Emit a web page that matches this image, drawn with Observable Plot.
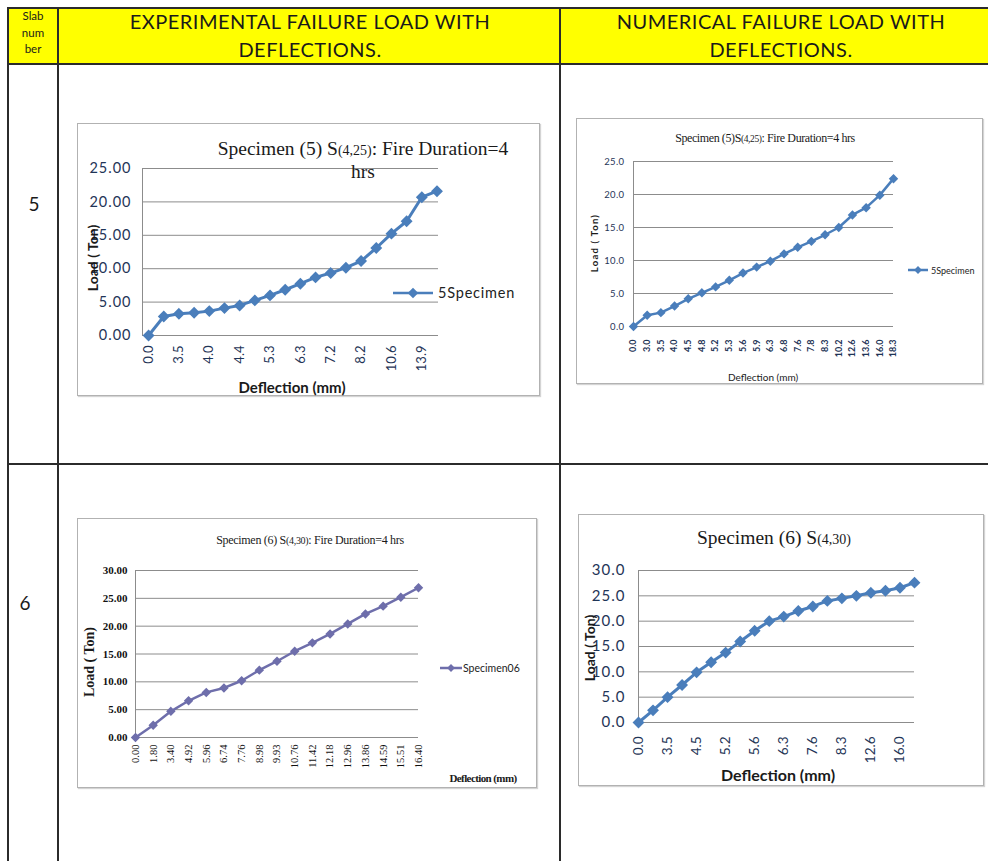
<!DOCTYPE html>
<html>
<head>
<meta charset="utf-8">
<script src="https://cdn.jsdelivr.net/npm/d3@7"></script>
<script src="https://cdn.jsdelivr.net/npm/@observablehq/plot@0.6"></script>
<style>
  body { margin: 0; background: #fff; }
  #page { position: relative; width: 988px; height: 861px; overflow: hidden; background: #fff; font-family: Lato, sans-serif; color: #1a1a1a; }
  .hline { position: absolute; height: 2px; background: #2b2b2b; }
  .vline { position: absolute; width: 2px; background: #2b2b2b; }
  .box { position: absolute; box-sizing: border-box; border: 1.5px solid #b2b2b2; box-shadow: 1px 1px 1px #d4d4d4; background: #fff; }
  .c { position: absolute; transform: translate(-50%, -50%); white-space: nowrap; line-height: 1; }
  .rot { position: absolute; transform: translate(-50%, -50%) rotate(-90deg); white-space: nowrap; line-height: 1; }
  .l { position: absolute; transform: translate(0, -50%); white-space: nowrap; line-height: 1; }
  .serif { font-family: "Liberation Serif", "Times New Roman", serif; }
  .head { font-size: 20px; letter-spacing: 0.5px; }
  svg.chart { position: absolute; }
</style>
</head>
<body>
<div id="page">
  <!-- table header -->
  <div style="position:absolute;left:8px;top:8px;width:1000px;height:56px;background:#ffff00;"></div>
  <div class="hline" style="left:8px;top:7px;width:1000px;"></div>
  <div class="hline" style="left:8px;top:63px;width:1000px;"></div>
  <div class="hline" style="left:8px;top:463px;width:1000px;"></div>
  <div class="vline" style="left:7px;top:7px;height:900px;"></div>
  <div class="vline" style="left:57px;top:7px;height:900px;"></div>
  <div class="vline" style="left:559px;top:7px;height:900px;"></div>

  <div class="c" style="left:33px;top:16px;font-size:11.5px;">Slab</div>
  <div class="c" style="left:33px;top:33px;font-size:11.5px;">num</div>
  <div class="c" style="left:33px;top:49px;font-size:11.5px;">ber</div>
  <div class="c head" style="left:310px;top:21px;">EXPERIMENTAL FAILURE LOAD WITH</div>
  <div class="c head" style="left:310px;top:49px;">DEFLECTIONS.</div>
  <div class="c head" style="left:781px;top:21px;">NUMERICAL FAILURE LOAD WITH</div>
  <div class="c head" style="left:781px;top:49px;">DEFLECTIONS.</div>

  <div class="c" style="left:34px;top:203px;font-size:19px;">5</div>
  <div class="c" style="left:25px;top:602px;font-size:19px;">6</div>

  <!-- chart frames -->
  <div class="box" style="left:77px;top:123px;width:463px;height:273px;"></div>
  <div class="box" style="left:576px;top:118px;width:407px;height:266px;"></div>
  <div class="box" style="left:77px;top:518px;width:460px;height:270px;"></div>
  <div class="box" style="left:578px;top:514px;width:406px;height:272px;"></div>
</div>

<script>
// Slab 5, experimental: deflection tick labels (every other point) and load in tons
const exp5Ticks = ["0.0", "3.5", "4.0", "4.4", "5.3", "6.3", "7.2", "8.2", "10.6", "13.9"];
const exp5Load = [0, 2.85, 3.25, 3.4, 3.65, 4.1, 4.5, 5.25, 6.0, 6.85, 7.75, 8.7, 9.35, 10.15, 11.15, 13.1, 15.25, 17.1, 20.7, 21.6];

// Slab 5, numerical
const num5Ticks = ["0.0", "3.0", "3.5", "4.0", "4.5", "4.8", "5.2", "5.3", "5.6", "5.9", "6.3", "6.8", "7.6", "7.8", "8.3", "10.2", "12.6", "13.6", "16.0", "18.3"];
const num5Load = [0, 1.7, 2.1, 3.1, 4.2, 5.1, 6.0, 7.0, 8.1, 9.0, 9.9, 11.0, 12.0, 12.9, 13.9, 15.0, 16.9, 18.0, 19.9, 22.4];

// Slab 6, experimental
const exp6Ticks = ["0.00", "1.80", "3.40", "4.92", "5.96", "6.74", "7.76", "8.98", "9.93", "10.76", "11.42", "12.18", "12.96", "13.86", "14.59", "15.51", "16.40"];
const exp6Load = [0, 2.2, 4.7, 6.6, 8.1, 8.9, 10.2, 12.1, 13.7, 15.5, 17.0, 18.6, 20.4, 22.2, 23.6, 25.2, 26.9];

// Slab 6, numerical (tick labels every other point)
const num6Ticks = ["0.0", "3.5", "4.5", "5.2", "5.6", "6.3", "7.6", "8.3", "12.6", "16.0"];
const num6Load = [0, 2.4, 5.0, 7.4, 9.9, 11.9, 13.8, 16.0, 18.1, 20.0, 20.9, 22.0, 22.9, 24.0, 24.5, 25.0, 25.6, 26.0, 26.6, 27.6];

const page = document.getElementById("page");

function drawChart(cfg) {
  const data = cfg.load.map((v, i) => ({i, v}));
  const tickIdx = d3.range(0, cfg.load.length, cfg.every);
  const yTicks = d3.range(0, cfg.yMax + 0.001, cfg.yStep);
  const svg = Plot.plot({
    width: cfg.W, height: cfg.H,
    marginTop: cfg.mt, marginRight: cfg.mr, marginBottom: cfg.mb, marginLeft: cfg.ml,
    x: {domain: cfg.xDomain, label: null},
    y: {domain: [0, cfg.yMax], label: null},
    style: {fontFamily: cfg.font, color: cfg.textColor, background: "transparent", overflow: "visible"},
    marks: [
      Plot.gridY(yTicks, {stroke: "#8c8c8c", strokeOpacity: 1, strokeWidth: 1}),
      Plot.ruleX([cfg.xDomain[0]], {stroke: "#8c8c8c", strokeWidth: 1}),
      Plot.axisY(yTicks, {tickSize: 0, tickPadding: cfg.padY, tickFormat: d => d.toFixed(cfg.digits), fontSize: cfg.yFont, fontWeight: cfg.yWeight || "normal", label: null}),
      Plot.axisX(tickIdx, {tickSize: 0, tickPadding: cfg.padX, tickRotate: -90, tickFormat: i => cfg.ticks[i / cfg.every], fontSize: cfg.xFont, fontWeight: cfg.xWeight || "normal", label: null}),
      Plot.line(data, {x: "i", y: "v", stroke: cfg.color, strokeWidth: cfg.sw}),
      Plot.dot(data, {x: "i", y: "v", symbol: "diamond2", r: cfg.r, fill: cfg.color, stroke: cfg.color})
    ]
  });
  // widen the tick lettering a little
  if (cfg.yLetter) d3.select(svg).selectAll('g[aria-label="y-axis tick label"] text').style("letter-spacing", cfg.yLetter + "px");
  if (cfg.xLetter) d3.select(svg).selectAll('g[aria-label="x-axis tick label"] text').style("letter-spacing", cfg.xLetter + "px");
  svg.classList.add("chart");
  svg.style.left = cfg.L + "px";
  svg.style.top = cfg.T + "px";
  page.append(svg);
}

const blue = "#4a7ebb";
const slate = "#6e6eab";

drawChart({load: exp5Load, ticks: exp5Ticks, every: 2, L: 77, T: 123, W: 463, H: 273,
  mt: 45, mr: 102, mb: 61, ml: 65, xDomain: [-0.4, 19.1], yMax: 25, yStep: 5, digits: 2,
  font: "Lato, sans-serif", textColor: "#1f3557", yFont: 14.5, yLetter: 1, xFont: 13, padY: 11, padX: 10,
  color: blue, sw: 3, r: 4.4});

drawChart({load: num5Load, ticks: num5Ticks, every: 1, L: 576, T: 118, W: 407, H: 266,
  mt: 43, mr: 90, mb: 58, ml: 57, xDomain: [0, 19], yMax: 25, yStep: 5, digits: 1,
  font: "Lato, sans-serif", textColor: "#1f3557", yFont: 9.5, yLetter: 0.4, xFont: 9, xWeight: "bold", padY: 9, padX: 13,
  color: blue, sw: 2.5, r: 3.3});

drawChart({load: exp6Load, ticks: exp6Ticks, every: 1, L: 77, T: 518, W: 460, H: 270,
  mt: 52, mr: 119, mb: 51, ml: 58, xDomain: [0, 16], yMax: 30, yStep: 5, digits: 2,
  font: "'Liberation Serif', serif", textColor: "#111", yFont: 11, yWeight: "bold", xFont: 10.5, padY: 8, padX: 7,
  color: slate, sw: 2.5, r: 3.3});

drawChart({load: num6Load, ticks: num6Ticks, every: 2, L: 578, T: 514, W: 406, H: 272,
  mt: 56, mr: 70, mb: 64, ml: 60, xDomain: [0, 19], yMax: 30, yStep: 5, digits: 1,
  font: "Lato, sans-serif", textColor: "#1f3557", yFont: 15, yLetter: 1, xFont: 13.5, padY: 13, padX: 14,
  color: blue, sw: 3, r: 4.4});

// titles, axis titles and legends
function add(html) { page.insertAdjacentHTML("beforeend", html); }
function legendKey(x, y, w, color, s) {
  add(`<svg style="position:absolute;left:${x}px;top:${y - 8}px;overflow:visible" width="${w}" height="16">
    <line x1="0" y1="8" x2="${w}" y2="8" stroke="${color}" stroke-width="2.5"/>
    <rect x="${w / 2 - s / 2}" y="${8 - s / 2}" width="${s}" height="${s}" fill="${color}" transform="rotate(45 ${w / 2} 8)"/>
  </svg>`);
}

// Slab 5, experimental
add(`<div class="c serif" style="left:363px;top:149px;font-size:19.5px;">Specimen (5) S<span style="font-size:14px">(4,25)</span>: Fire Duration=4</div>`);
add(`<div class="c serif" style="left:363px;top:172px;font-size:19.5px;">hrs</div>`);
add(`<div class="rot" style="left:93px;top:258px;font-size:14px;font-weight:bold;">Load ( Ton)</div>`);
add(`<div class="c" style="left:292px;top:387px;font-size:15px;font-weight:bold;">Deflection (mm)</div>`);
legendKey(393, 293, 40, blue, 7.5);
add(`<div class="l" style="left:438px;top:293px;font-size:14.5px;letter-spacing:0.8px;color:#222;">5Specimen</div>`);

// Slab 5, numerical
add(`<div class="c serif" style="left:765px;top:138px;font-size:12px;letter-spacing:-0.4px;">Specimen (5)S<span style="font-size:9.5px">(4,25)</span>: Fire Duration=4 hrs</div>`);
add(`<div class="rot" style="left:595px;top:243px;font-size:9.5px;font-weight:bold;letter-spacing:1.2px;">Load ( Ton)</div>`);
add(`<div class="c" style="left:763px;top:377px;font-size:10px;">Deflection (mm)</div>`);
legendKey(908, 270, 20, blue, 5.5);
add(`<div class="l" style="left:931px;top:270px;font-size:9px;color:#222;">5Specimen</div>`);

// Slab 6, experimental
add(`<div class="c serif" style="left:310px;top:540px;font-size:12px;letter-spacing:-0.3px;">Specimen (6) S<span style="font-size:10px">(4,30)</span>: Fire Duration=4 hrs</div>`);
add(`<div class="rot serif" style="left:90px;top:662px;font-size:14px;font-weight:bold;">Load ( Ton)</div>`);
add(`<div class="c serif" style="left:483px;top:778px;font-size:11px;font-weight:bold;letter-spacing:-0.6px;">Deflection (mm)</div>`);
legendKey(440, 668, 22, slate, 5.5);
add(`<div class="l" style="left:463px;top:668px;font-size:10.5px;color:#222;">Specimen06</div>`);

// Slab 6, numerical
add(`<div class="c serif" style="left:774px;top:538px;font-size:19.5px;">Specimen (6) S<span style="font-size:14px">(4,30)</span></div>`);
add(`<div class="rot" style="left:590px;top:648px;font-size:14px;font-weight:bold;">Load ( Ton)</div>`);
add(`<div class="c" style="left:778px;top:775px;font-size:16px;font-weight:bold;">Deflection (mm)</div>`);
</script>
</body>
</html>
